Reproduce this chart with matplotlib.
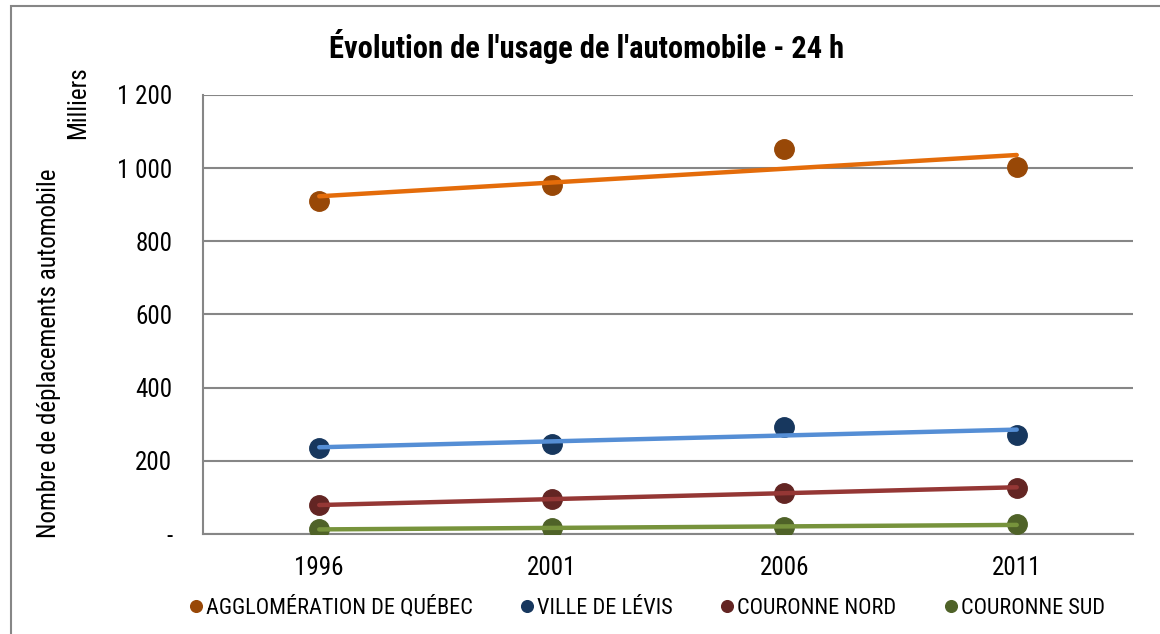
import numpy as np
import matplotlib
matplotlib.use("Agg")
import matplotlib.pyplot as plt
from matplotlib import font_manager
from matplotlib.patches import Rectangle

# data (milliers de déplacements)
years = ["1996", "2001", "2006", "2011"]
agglo = [909, 955, 1052, 1002]
levis = [234, 246, 293, 272]
nord = [79, 95, 113, 127]
sud = [14, 16, 18, 27]

names = ["AGGLOMÉRATION DE QUÉBEC", "VILLE DE LÉVIS", "COURONNE NORD", "COURONNE SUD"]
dot_colors = ["#984807", "#17375E", "#632523", "#4F6228"]
line_colors = ["#E46C0A", "#558ED5", "#953735", "#77933C"]

available = set(f.name for f in font_manager.fontManager.ttflist)
font = "DejaVu Sans"
for cand in ["Liberation Sans Narrow", "Roboto Condensed", "Open Sans Condensed", "Liberation Sans"]:
    if cand in available:
        font = cand
        break
plt.rcParams["font.family"] = [font, "DejaVu Sans"]

fig = plt.figure(figsize=(11.6, 6.34), dpi=100)
ax = fig.add_axes([0.175, 0.1577, 0.8017, 0.6925])

x = np.arange(len(years))
handles = []
for ys, name, dc, lc in zip([agglo, levis, nord, sud], names, dot_colors, line_colors):
    h, = ax.plot(x, ys, "o", color=dc, markersize=14, linestyle="none", label=name, zorder=3)
    handles.append(h)
    # linear trend line
    k, b = np.polyfit(x, ys, 1)
    ax.plot(x, k * x + b, color=lc, linewidth=3.2, solid_capstyle="round", zorder=4)

ax.set_xlim(-0.5, 3.5)
ax.set_ylim(0, 1200)
ax.set_xticks(x)
ax.set_xticklabels(years)
yt = np.arange(0, 1201, 200)
ax.set_yticks(yt)
ax.set_yticklabels(["-"] + ["{:,}".format(v).replace(",", " ") for v in yt[1:]])
ax.tick_params(length=0, labelsize=18)
ax.tick_params(axis="y", pad=22)
ax.tick_params(axis="x", pad=16)
ax.yaxis.grid(True, color="#868686", linewidth=1.5)
ax.set_axisbelow(True)
for s in ["top", "right"]:
    ax.spines[s].set_visible(False)
for s in ["left", "bottom"]:
    ax.spines[s].set_color("#868686")
    ax.spines[s].set_linewidth(1.5)

fig.text(0.506, 0.926, "Évolution de l'usage de l'automobile - 24 h", ha="center", va="center",
         fontsize=22, fontweight="bold")
fig.text(0.042, 0.443, "Nombre de déplacements automobile", rotation=90, ha="center", va="center", fontsize=18)
fig.text(0.067, 0.8375, "Milliers", rotation=90, ha="center", va="center", fontsize=18)

fig.legend(handles=handles, loc="center", bbox_to_anchor=(0.558, 0.042), ncol=4, frameon=False,
           fontsize=16, markerscale=0.6, handlelength=0.5, handletextpad=0.2, columnspacing=2.2)

fig.patches.append(Rectangle((11 / 1160, -0.1), 1.2, 1 - 6 / 634 + 0.1, transform=fig.transFigure,
                             fill=False, edgecolor="#868686", linewidth=1.5))

fig.savefig("out.png", dpi=100)
